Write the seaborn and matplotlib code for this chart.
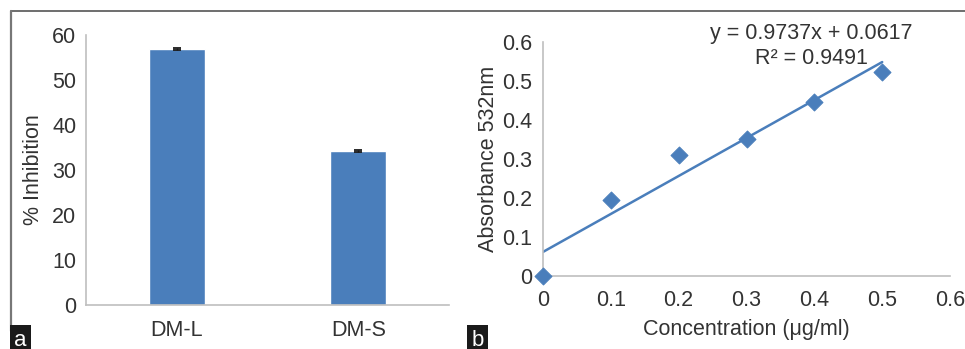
import matplotlib
matplotlib.use("Agg")
import matplotlib.pyplot as plt
from matplotlib.lines import Line2D
import seaborn as sns
import pandas as pd
import numpy as np

# Panel a: percent inhibition
categories = ["DM-L", "DM-S"]
inhibition = [56.9, 34.2]
inhibition_err = [0.2, 0.2]

# Panel b: calibration curve
concentration = [0.0, 0.1, 0.2, 0.3, 0.4, 0.5]
absorbance = [0.0, 0.195, 0.31, 0.352, 0.446, 0.522]
slope = 0.9737
intercept = 0.0617
r_squared = 0.9491

sns.set_theme(style="white")
plt.rcParams["font.family"] = ["Liberation Sans", "DejaVu Sans"]

BLUE = "#4a7ebb"
TEXT = "#333333"
SPINE = "#bfbfbf"
FS = 15.5

W, H = 965, 349
fig = plt.figure(figsize=(W / 100, H / 100), dpi=100)
ax1 = fig.add_axes([0.0891, 0.1261, 0.3762, 0.7736])
ax2 = fig.add_axes([0.5627, 0.2092, 0.4218, 0.6705])

# ---- panel a ----
df_a = pd.DataFrame({"cat": categories, "val": inhibition})
sns.barplot(data=df_a, x="cat", y="val", color=BLUE, saturation=1,
            width=0.31, ax=ax1)
ax1.errorbar(range(len(categories)), inhibition, yerr=inhibition_err,
             fmt="none", ecolor="#1a1a1a", capsize=3, elinewidth=1.0,
             capthick=1.3)
ax1.set_xlim(-0.5, 1.5)
ax1.set_ylim(0, 60)
ax1.set_yticks(range(0, 61, 10))
ax1.set_xlabel("")
ax1.set_ylabel("% Inhibition", fontsize=FS, color=TEXT, labelpad=6)
ax1.tick_params(axis="both", length=0, labelsize=FS, colors=TEXT)
ax1.tick_params(axis="x", pad=11)
ax1.tick_params(axis="y", pad=7)

# ---- panel b ----
df_b = pd.DataFrame({"conc": concentration, "abs": absorbance})
fit_x = np.array([min(concentration), max(concentration)])
ax2.plot(fit_x, slope * fit_x + intercept, color=BLUE, lw=1.8, zorder=2)
sns.scatterplot(data=df_b, x="conc", y="abs", marker="D", s=75,
                color=BLUE, edgecolor=BLUE, ax=ax2, zorder=3, clip_on=False)
ax2.set_xlim(0, 0.6)
ax2.set_ylim(0, 0.6)
ticks = [0, 0.1, 0.2, 0.3, 0.4, 0.5, 0.6]
tick_labels = ["0", "0.1", "0.2", "0.3", "0.4", "0.5", "0.6"]
ax2.set_xticks(ticks)
ax2.set_xticklabels(tick_labels)
ax2.set_yticks(ticks)
ax2.set_yticklabels(tick_labels)
ax2.set_xlabel("Concentration (μg/ml)", fontsize=FS, color=TEXT, labelpad=6)
ax2.set_ylabel("Absorbance 532nm", fontsize=FS, color=TEXT, labelpad=2)
ax2.tick_params(axis="both", length=0, labelsize=FS, colors=TEXT)
ax2.tick_params(axis="x", pad=10)
ax2.tick_params(axis="y", pad=8)

fig.text(811 / W, 1 - 34 / H, f"y = {slope}x + {intercept}", fontsize=FS,
         color=TEXT, ha="center", va="center")
fig.text(811 / W, 1 - 59 / H, f"R² = {r_squared}", fontsize=FS,
         color=TEXT, ha="center", va="center")

for ax in (ax1, ax2):
    for side in ("top", "right"):
        ax.spines[side].set_visible(False)
    for side in ("left", "bottom"):
        ax.spines[side].set_color(SPINE)
        ax.spines[side].set_linewidth(1.2)

# Outer frame lines
fig.add_artist(Line2D([11 / W, 1.0], [1 - 11 / H, 1 - 11 / H],
                      color="#555555", lw=1.2))
fig.add_artist(Line2D([11 / W, 11 / W], [1 - 11 / H, 1 - 331 / H],
                      color="#777777", lw=1.6))

# Panel letters
for letter, cx in (("a", 20.5), ("b", 477.5)):
    fig.text(cx / W, 1 - 340 / H, letter, color="white", fontsize=16,
             ha="center", va="center",
             bbox=dict(boxstyle="square,pad=0.2", fc="#1a1a1a", ec="none"))

fig.savefig("out.png", dpi=100)
